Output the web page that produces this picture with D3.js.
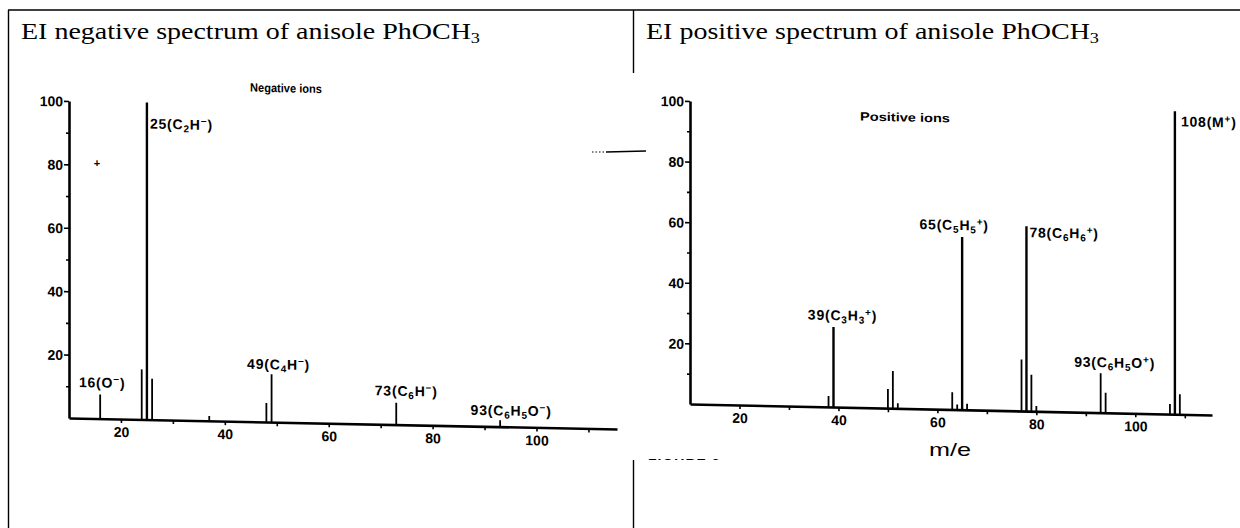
<!DOCTYPE html>
<html>
<head>
<meta charset="utf-8">
<script src="https://cdn.jsdelivr.net/npm/d3@7"></script>
<style>
  body { margin: 0; background: #fff; }
  svg { display: block; }
  .tick text { font-family: "Liberation Sans", Arial, sans-serif; font-weight: bold; font-size: 14px; fill: #000; }
  .peak-label { font-family: "Liberation Sans", Arial, sans-serif; font-weight: bold; font-size: 14px; letter-spacing: 0.8px; }
</style>
</head>
<body>
<div id="chart"></div>
<script>
// Values (m/e and relative intensity, %)
var negMz  = [16, 24, 25, 26, 37, 48, 49, 73, 93];
var negInt = [7.6, 15.8, 100, 12.9, 1.5, 6, 15.1, 6.9, 2];
var posMz  = [38, 39, 50, 51, 52, 63, 64, 65, 66, 77, 78, 79, 80, 93, 94, 107, 108, 109];
var posInt = [3.6, 26.4, 6.3, 12.3, 1.7, 5.7, 1.7, 57, 2, 17, 61, 12, 1.7, 13, 6.6, 3.3, 100, 6.6];

// Labelled peaks ("_" = subscript, "^" = superscript, one character each)
var negLabelMz   = [25, 16, 49, 73, 93];
var negLabelText = ["25(C_2H^\u2212)", "16(O^\u2212)", "49(C_4H^\u2212)", "73(C_6H^\u2212)", "93(C_6H_5O^\u2212)"];
var posLabelMz   = [39, 65, 78, 93, 108];
var posLabelText = ["39(C_3H_3^+)", "65(C_5H_5^+)", "78(C_6H_6^+)", "93(C_6H_5O^+)", "108(M^+)"];

var yMajor = [20, 40, 60, 80, 100];
var yMinor = [10, 30, 50, 70, 90];
var xMajor = [20, 40, 60, 80, 100];
var xMinor = [30, 50, 70, 90, 110];

var titles = ["EI negative spectrum of anisole PhOCH_3", "EI positive spectrum of anisole PhOCH_3"];
var ionTitles = ["Negative ions", "Positive ions"];

var width = 1240, height = 528;

var svg = d3.select('#chart').append('svg')
  .attr('width', width)
  .attr('height', height);

// Write a string with _x / ^x markup as tspans; the baseline is restored
// on the tspan that follows a shifted character.
function richText(text, str, size, small, sub, sup) {
  var i = 0, back = 0;
  while (i < str.length) {
    var c = str[i];
    if ((c === '_' || c === '^') && i + 1 < str.length) {
      var off = c === '_' ? sub : -sup;
      text.append('tspan').attr('dy', off - back).style('font-size', small + 'px').text(str[i + 1]);
      back = off;
      i += 2;
    } else {
      var j = i;
      while (j < str.length && str[j] !== '_' && str[j] !== '^') j++;
      text.append('tspan').attr('dy', -back).style('font-size', size + 'px').text(str.slice(i, j));
      back = 0;
      i = j;
    }
  }
}

// Table frame
var frame = svg.append('g').attr('stroke', '#000').attr('stroke-width', 1.4);
frame.append('line').attr('x1', 8).attr('y1', 10).attr('x2', 1240).attr('y2', 10);
frame.append('line').attr('x1', 8.5).attr('y1', 10).attr('x2', 8.5).attr('y2', 528);
frame.append('line').attr('x1', 633.5).attr('y1', 10).attr('x2', 633.5).attr('y2', 73);
frame.append('line').attr('x1', 633.5).attr('y1', 460).attr('x2', 633.5).attr('y2', 528);

// Cell titles
[[21, 459], [646, 453]].forEach(function(p, k) {
  var t = svg.append('text')
    .attr('x', p[0]).attr('y', 39)
    .attr('textLength', p[1]).attr('lengthAdjust', 'spacingAndGlyphs')
    .style('font-family', '"Liberation Serif", "Times New Roman", serif')
    .style('font-size', '23px');
  richText(t, titles[k], 23, 15, 4, 8);
});

var panels = [
  { mz: negMz, ints: negInt, labMz: negLabelMz, labText: negLabelText,
    x0: 69, x1: 617, y0: 418, y1: 101, skew: 1.15,
    ion: { x: 286, y: 88, w: 72 },
    offsets: [['start', 3, 26], ['middle', 2, -7], ['middle', 7, -5], ['middle', 10, -7], ['middle', 11, -5]] },
  { mz: posMz, ints: posInt, labMz: posLabelMz, labText: posLabelText,
    x0: 690, x1: 1212, y0: 404, y1: 101, skew: 1.2,
    ion: { x: 905, y: 117, w: 90 },
    offsets: [['middle', 9, -7], ['middle', -8, -7], ['start', 3, 11], ['middle', 14, -6], ['start', 6, 15]] }
];

panels.forEach(function(p, k) {
  var x = d3.scaleLinear().domain([10, 115.5]).range([p.x0, p.x1]);
  var y = d3.scaleLinear().domain([0, 100]).range([p.y0, p.y1]);

  // the scan is slightly tilted: baseline falls to the right
  var g = svg.append('g')
    .attr('transform', 'translate(' + p.x0 + ',' + p.y0 + ') skewY(' + p.skew + ') translate(' + (-p.x0) + ',' + (-p.y0) + ')');

  var yAxis = g.append('g').attr('transform', 'translate(' + p.x0 + ',0)')
    .call(d3.axisLeft(y).tickValues(yMajor).tickSize(5).tickSizeOuter(0).tickPadding(1).tickFormat(d3.format('d')));
  g.append('g').attr('transform', 'translate(' + p.x0 + ',0)')
    .call(d3.axisLeft(y).tickValues(yMinor).tickSize(3).tickSizeOuter(0).tickFormat(''))
    .select('.domain').remove();

  g.append('g').attr('transform', 'translate(0,' + p.y0 + ')')
    .call(d3.axisBottom(x).tickValues(xMajor).tickSize(4).tickSizeOuter(0).tickPadding(4).tickFormat(d3.format('d')));
  g.append('g').attr('transform', 'translate(0,' + p.y0 + ')')
    .call(d3.axisBottom(x).tickValues(xMinor).tickSize(4).tickSizeOuter(0).tickFormat(''))
    .select('.domain').remove();

  g.selectAll('.domain').attr('stroke', '#000').attr('stroke-width', 2.6);
  g.selectAll('.tick line').attr('stroke', '#000').attr('stroke-width', 1.6);
  g.selectAll('.tick text').attr('font-size', 14);
  yAxis.selectAll('.tick text').attr('dy', '0.36em');

  // peaks
  g.selectAll('line.peak').data(p.mz).enter()
    .append('line').classed('peak', true)
    .attr('x1', function(d) { return x(d); })
    .attr('x2', function(d) { return x(d); })
    .attr('y1', y(0))
    .attr('y2', function(d, i) { return y(p.ints[i]); })
    .attr('stroke', '#000')
    .attr('stroke-width', function(d, i) { return p.ints[i] > 20 ? 2.4 : 1.8; });

  // peak labels
  p.labMz.forEach(function(m, i) {
    var v = p.ints[p.mz.indexOf(m)];
    var o = p.offsets[i];
    var t = g.append('text').classed('peak-label', true)
      .attr('x', x(m) + o[1]).attr('y', y(v) + o[2])
      .attr('text-anchor', o[0]);
    richText(t, p.labText[i], 14, 10, 3, 5);
  });

  g.append('text')
    .attr('x', p.ion.x).attr('y', p.ion.y)
    .attr('text-anchor', 'middle')
    .attr('textLength', p.ion.w).attr('lengthAdjust', 'spacingAndGlyphs')
    .style('font-family', '"Liberation Sans", Arial, sans-serif')
    .style('font-weight', 'bold').style('font-size', '12px')
    .text(ionTitles[k]);
});

// axis title of the positive scan
svg.append('text')
  .attr('x', 950).attr('y', 456)
  .attr('text-anchor', 'middle')
  .attr('textLength', 42).attr('lengthAdjust', 'spacingAndGlyphs')
  .style('font-family', '"Liberation Sans", Arial, sans-serif')
  .style('font-size', '19px')
  .text('m/e');

// scan leftovers: a stray mark, a cut rule and a clipped caption line
svg.append('text').attr('x', 97).attr('y', 167).attr('text-anchor', 'middle')
  .style('font-family', '"Liberation Sans", Arial, sans-serif').style('font-weight', 'bold').style('font-size', '11px')
  .text('+');
svg.append('line').attr('x1', 592).attr('y1', 152).attr('x2', 606).attr('y2', 152)
  .attr('stroke', '#000').attr('stroke-width', 1.2).attr('stroke-dasharray', '1.5,2');
svg.append('line').attr('x1', 606).attr('y1', 152).attr('x2', 646).attr('y2', 151)
  .attr('stroke', '#000').attr('stroke-width', 1.4);

svg.append('clipPath').attr('id', 'capClip')
  .append('rect').attr('x', 640).attr('y', 450).attr('width', 200).attr('height', 10);
svg.append('text').attr('x', 648).attr('y', 469)
  .attr('clip-path', 'url(#capClip)')
  .style('font-family', '"Liberation Sans", Arial, sans-serif').style('font-weight', 'bold').style('font-size', '14px')
  .style('letter-spacing', '1px')
  .text('FIGURE 2.');
</script>
</body>
</html>
